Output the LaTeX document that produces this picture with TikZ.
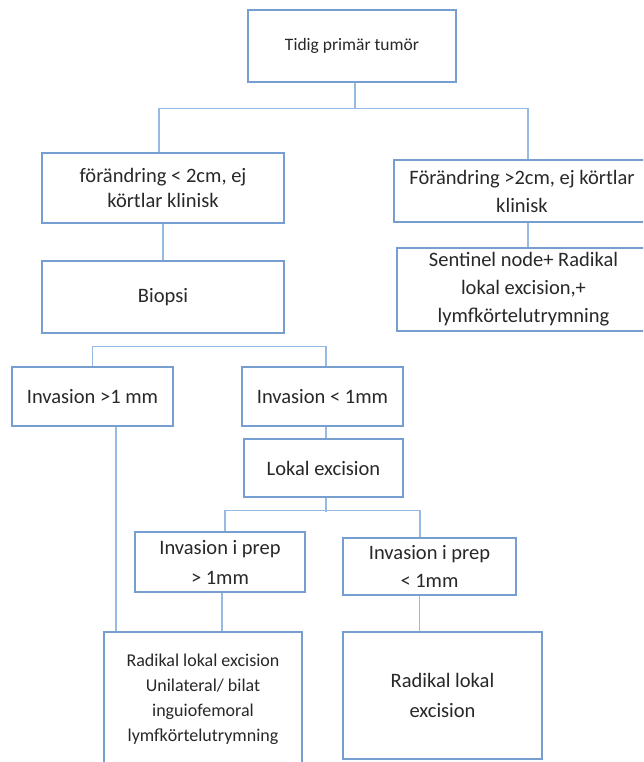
\documentclass[tikz,border=0pt]{standalone}
\usepackage{fontspec}
\setmainfont{Carlito}
\definecolor{boxc}{RGB}{118,158,208}
\definecolor{linec}{RGB}{150,186,226}
\definecolor{txtc}{RGB}{40,40,40}
\tikzset{
  fbox/.style={draw=boxc, line width=1.3pt, align=center, inner sep=0pt, text=txtc, fill=white},
  conn/.style={draw=linec, line width=1.2pt},
  big/.style={font=\fontsize{20.5}{28}\selectfont},
}
\begin{document}
\begin{tikzpicture}[x=1pt,y=-1pt]
\path[use as bounding box] (0,0) rectangle (643,762);
\clip (0,0) rectangle (643,762);
\fill[white] (0,0) rectangle (643,762);

\node[fbox, minimum width=208, minimum height=72, font=\fontsize{17.5}{22}\selectfont] (top) at (352,46) {Tidig primär tumör};
\node[fbox, big, minimum width=242, minimum height=70, font=\fontsize{20.5}{25}\selectfont] (f1) at (163,188) {förändring {<} 2cm, ej\\körtlar klinisk};
\node[fbox, big, minimum width=256, minimum height=62] (f2) at (522,191) {Förändring {>}2cm, ej körtlar\\klinisk};
\node[fbox, big, minimum width=242, minimum height=72] (bio) at (163,297) {Biopsi};
\node[fbox, big, minimum width=253, minimum height=83] (sent) at (523.5,289.5) {Sentinel node+ Radikal\\lokal excision,+\\lymfkörtelutrymning};
\node[fbox, big, minimum width=161, minimum height=59] (inv1) at (92.5,396.5) {Invasion {>}1 mm};
\node[fbox, big, minimum width=161, minimum height=59] (inv2) at (322.5,396.5) {Invasion {<} 1mm};
\node[fbox, big, minimum width=159, minimum height=58] (lok) at (323.5,468) {Lokal excision};
\node[fbox, big, minimum width=170, minimum height=60, font=\fontsize{20.5}{30}\selectfont] (p1) at (220,562) {Invasion i prep\\{>} 1mm};
\node[fbox, big, minimum width=173, minimum height=57] (p2) at (429.5,566.5) {Invasion i prep\\{<} 1mm};
\node[fbox, minimum width=198, minimum height=135, font=\fontsize{18}{25}\selectfont] (r1) at (203,699.5) {Radikal lokal excision\\Unilateral/ bilat\\inguiofemoral\\lymfkörtelutrymning};
\node[fbox, big, minimum width=199, minimum height=127, font=\fontsize{20.5}{30}\selectfont] (r2) at (442.5,695.5) {Radikal lokal\\excision};

\draw[conn] ([xshift=3pt]top.south) -- ++(0,26);
\draw[conn] ([xshift=-4pt]f1.north) -- ++(0,-44) -| ([xshift=6pt]f2.north);
\draw[conn] (f1.south) -- (bio.north);
\draw[conn] ([xshift=6pt]f2.south) -- ([xshift=4.5pt]sent.north);
\draw[conn] (inv1.north) -- ++(0,-20) -| ([xshift=3.5pt]inv2.north);
\draw[conn] ([xshift=3.5pt]inv2.south) -- ([xshift=2.5pt]lok.north);
\draw[conn] ([xshift=2.5pt]lok.south) -- ++(0,14);
\draw[conn] ([xshift=5pt]p1.north) -- ++(0,-21) -| ([xshift=-9.5pt]p2.north);
\draw[conn] ([xshift=23.5pt]inv1.south) -- ([xshift=23.5pt]inv1.south |- r1.north);
\draw[conn] ([xshift=2pt]p1.south) -- ([xshift=2pt]p1.south |- r1.north);
\draw[conn] ([xshift=-10pt]p2.south) -- ([xshift=-10pt]p2.south |- r2.north);
\end{tikzpicture}
\end{document}
